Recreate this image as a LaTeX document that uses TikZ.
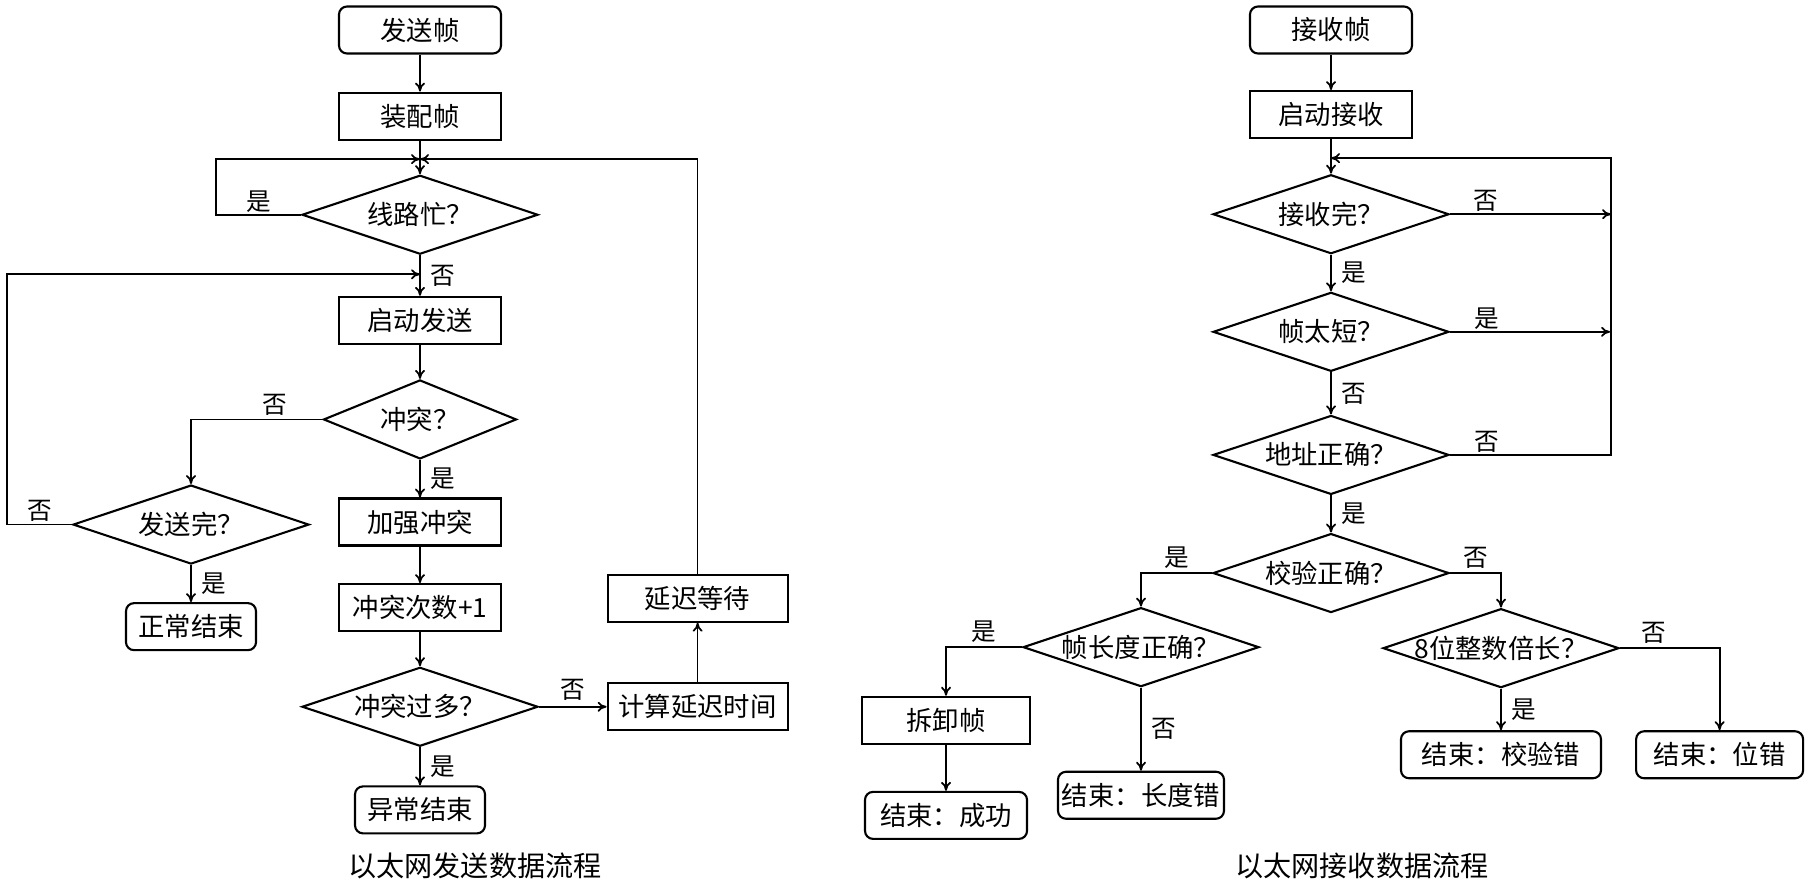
\documentclass[tikz,border=0pt]{standalone}
\usepackage{fontspec}
\newfontfamily\cjk{Noto Sans CJK SC}
\usetikzlibrary{shapes.geometric, arrows.meta, positioning}

\begin{document}
\begin{tikzpicture}[
    font=\cjk\fontsize{15}{18}\selectfont,
    process/.style={draw, line width=1.2pt, minimum width=3.24cm, 
                    minimum height=0.94cm, inner sep=0pt},
    terminal/.style={process, rounded corners=0.16cm},
    decision/.style={draw, diamond, aspect=3, line width=1.2pt, inner xsep=-0.5cm, 
                     inner ysep=0pt, minimum width=4.72cm, minimum height=1.58cm},
    line/.style={line width=1pt},
    arrow/.style={line, -{To[length=1.8mm, width=2mm]}},
    answer/.style={font=\cjk\fontsize{14}{16}\selectfont, inner sep=0pt},
    caption/.style={font=\cjk\fontsize{16}{19}\selectfont}
]
    \useasboundingbox (0,0) rectangle (36.24,-17.72);

    \node[terminal] (send) at (8.4,-0.6) {发送帧};
    \node[process, below=0.74cm of send] (assemble) {装配帧};
    \node[decision, below=0.67cm of assemble] (busy) {线路忙？};
    \node[process, below=0.81cm of busy] (startsend) {启动发送};
    \node[decision, minimum width=3.86cm, below=0.68cm of startsend] (collide) {冲突？};
    \node[process, below=0.75cm of collide] (jam) {加强冲突};
    \node[process, below=0.73cm of jam] (count) {冲突次数+1};
    \node[decision, below=0.68cm of count] (toomany) {冲突过多？};
    \node[terminal, minimum width=2.6cm, below=0.76cm of toomany] (abort) {异常结束};
    \node[decision, below=0.48cm of collide, xshift=-4.58cm] (sentall) {发送完？};
    \node[terminal, minimum width=2.6cm, below=0.74cm of sentall] (normalend) {正常结束};
    \node[process, minimum width=3.6cm, right=1.35cm of toomany] (calcdelay) {计算延迟时间};
    \node[process, minimum width=3.6cm, above=1.19cm of calcdelay] (wait) {延迟等待};
    \coordinate[above=0.3cm of busy] (join1);
    \coordinate[above=0.43cm of startsend] (join2);

    \draw[arrow] (send) -- (assemble);
    \draw[arrow] (assemble) -- (busy);
    \draw[arrow] (busy.west) -- node[answer, above=1pt] {是} ++(-1.7,0) |- (join1);
    \draw[arrow] (busy) -- node[answer, right=0.2cm] {否} (startsend);
    \draw[arrow] (startsend) -- (collide);
    \draw[arrow] (collide.west) -| node[answer, above=2pt, pos=0.18] {否} (sentall.north);
    \draw[arrow] (sentall.west) -- node[answer, above=1pt] {否} ++(-1.3,0) |- (join2);
    \draw[arrow] (sentall) -- node[answer, right=0.2cm] {是} (normalend);
    \draw[arrow] (collide) -- node[answer, right=0.2cm] {是} (jam);
    \draw[arrow] (jam) -- (count);
    \draw[arrow] (count) -- (toomany);
    \draw[arrow] (toomany) -- node[answer, right=0.2cm] {是} (abort);
    \draw[arrow] (toomany) -- node[answer, above=0.1cm] {否} (calcdelay);
    \draw[arrow] (calcdelay) -- (wait);
    \draw[arrow] (wait.north) |- (join1);

    \node[terminal] (recvframe) at (26.62,-0.6) {接收帧};
    \node[process, below=0.71cm of recvframe] (startrecv) {启动接收};
    \node[decision, below=0.69cm of startrecv] (done) {接收完？};
    \node[decision, below=0.73cm of done] (tooshort) {帧太短？};
    \node[decision, below=0.84cm of tooshort] (addr) {地址正确？};
    \node[decision, below=0.74cm of addr] (check) {校验正确？};
    \node[decision, below=-0.14cm of check, xshift=-3.8cm] (lenok) {帧长度正确？};
    \node[decision, below=-0.12cm of check, xshift=3.4cm] (bits) {8位整数倍长？};
    \node[process, minimum width=3.36cm, below=0.16cm of lenok, xshift=-3.9cm] (unpack) {拆卸帧};
    \node[terminal, below=0.92cm of unpack] (success) {结束：成功};
    \node[terminal, minimum width=3.32cm, below=1.66cm of lenok] (lenerr) {结束：长度错};
    \node[terminal, minimum width=4cm, below=0.83cm of bits] (checkerr) {结束：校验错};
    \node[terminal, minimum width=3.34cm, right=0.66cm of checkerr] (biterr) {结束：位错};
    \coordinate[above=0.31cm of done] (join3);

    \draw[arrow] (recvframe) -- (startrecv);
    \draw[arrow] (startrecv) -- (done);
    \draw[arrow] (done.east) -- node[answer, above=1pt, pos=0.22] {否} ++(3.22,0);
    \draw[arrow] (done) -- node[answer, right=0.2cm] {是} (tooshort);
    \draw[arrow] (tooshort.east) -- node[answer, above=1pt, pos=0.23] {是} ++(3.2,0);
    \draw[arrow] (tooshort) -- node[answer, right=0.2cm] {否} (addr);
    \draw[arrow] (addr.east) -- node[answer, above=1pt, pos=0.23] {否} ++(3.22,0) |- (join3);
    \draw[arrow] (addr) -- node[answer, right=0.2cm] {是} (check);
    \draw[arrow] (check.west) -| node[answer, above=2pt, pos=0.25] {是} (lenok.north);
    \draw[arrow] (check.east) -| node[answer, above=2pt, pos=0.25] {否} (bits.north);
    \draw[arrow] (lenok.west) -| node[answer, above=2pt, pos=0.25] {是} (unpack.north);
    \draw[arrow] (lenok) -- node[answer, right=0.2cm] {否} (lenerr);
    \draw[arrow] (unpack) -- (success);
    \draw[arrow] (bits) -- node[answer, right=0.2cm] {是} (checkerr);
    \draw[arrow] (bits.east) -| node[answer, above=2pt, pos=0.17] {否} (biterr.north);

    \node[caption] (sendcap) at (9.5,-17.32) {以太网发送数据流程};
    \node[caption] (recvcap) at (27.24,-17.32) {以太网接收数据流程};
\end{tikzpicture}
\end{document}
